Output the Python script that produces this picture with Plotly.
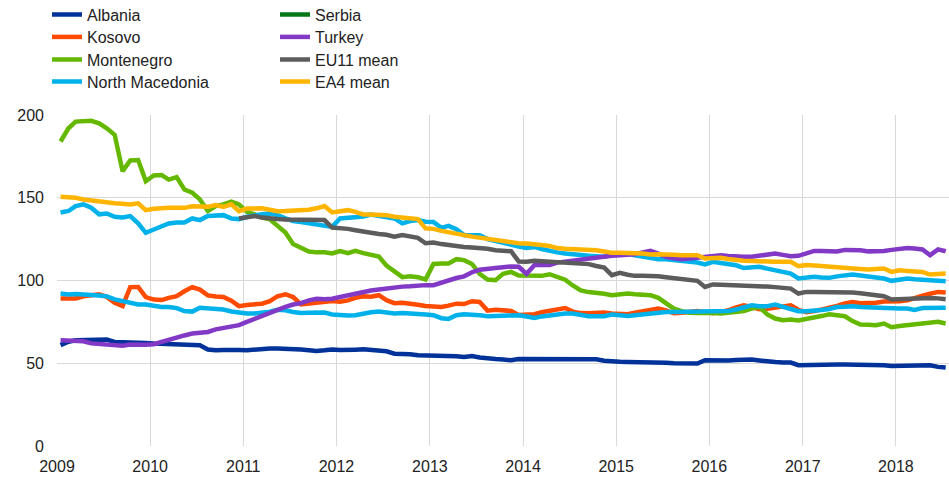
import plotly.graph_objects as go

# Monthly observations, Jan 2009 - Jul 2018 (index 0 = Jan 2009)
n_months = 115
months = [f"{2009 + m // 12}-{m % 12 + 1:02d}-15" for m in range(n_months)]

albania = [
    61, 63, 63.9, 63.9, 63.9, 64, 64.3, 62.9, 62.9, 62.9, 62.6, 62.3,
    62, 61.8, 61.5, 61.5, 61.5, 61.2, 60.9, 58.3, 57.8, 58, 58.3, 58,
    57.8, 58.4, 58.9, 58.9, 58.9, 58.9, 58.5, 58.3, 57.8, 57.4, 57.8, 58.3,
    58, 57.8, 58.2, 58.4, 58, 57.8, 57.2, 55.8, 55.8, 55.5, 54.8, 54.8,
    54.8, 54.8, 54.5, 54.2, 53.8, 54.4, 53.5, 52.8, 52.5, 52.2, 51.8, 52.6,
    52.6, 52.3, 52.2, 52.2, 52.2, 52.3, 52.3, 52.4, 52.4, 52.4, 51.5, 51,
    50.9, 50.8, 50.8, 50.8, 50.5, 50.5, 50.3, 50, 49.8, 49.8, 49.8, 51.8,
    51.6, 51.5, 51.6, 51.9, 52.2, 52.2, 51.7, 50.9, 50.7, 50.5, 50.4, 48.8,
    49, 49.1, 49.2, 49.2, 49.2, 49.2, 49.2, 49.2, 49.2, 49, 48.8, 48.4,
    48.6, 48.8, 48.8, 48.8, 48.8, 47.8, 47.4,
]

kosovo = [
    89.1, 89.1, 89.1, 90.5, 91.3, 91.7, 90.1, 86.5, 84.5, 96, 96.1, 90,
    88.5, 88.2, 89.5, 90.5, 93.5, 96, 94.5, 91, 90.3, 90.1, 87.8, 84.5,
    85.2, 85.6, 86, 87.5, 90.5, 91.7, 90, 85.5, 86, 86.7, 87.5, 87.6,
    87.2, 88, 89.5, 90.5, 90.2, 91.1, 88.1, 86.3, 86.5, 86.2, 85.3, 84.6,
    84.3, 84, 84.8, 86, 85.8, 87.5, 87, 81.8, 82.3, 82.2, 81.6, 79.2,
    79.2, 79.6, 80.8, 81.6, 82.5, 83.4, 81.2, 80.3, 80.2, 80.4, 80.6, 80,
    79.6, 79.6, 80.5, 81.4, 82.8, 83.1, 82, 80.2, 80.5, 81, 81.5, 81,
    80.2, 81, 82, 83.8, 85, 84, 82.6, 83, 83.8, 84.6, 85, 82.3,
    80.8, 81.5, 82.4, 83.1, 84.7, 86.2, 87, 86.3, 86.2, 86.5, 87.3, 87.2,
    87.5, 88, 89.5, 90.8, 92, 93.1, 92.7,
]

montenegro = [
    184, 192, 196, 196.5, 196.5, 195, 192, 188, 166, 172.5, 172.8, 160,
    163.5, 163.7, 161, 162.5, 155, 153, 149, 142, 145, 146, 147.6, 146,
    141.5, 140, 138, 137, 133, 129, 122, 120, 117.5, 117, 117, 116.3,
    117.8, 116.5, 117.9, 116.5, 115.5, 114.5, 109, 105.5, 102, 102.6, 102, 100.6,
    110, 110.3, 110.3, 112.9, 112.3, 110, 104, 100.6, 100.2, 104, 105.2, 103,
    102.8, 102.8, 102.8, 103.8, 102.5, 100.5, 97, 94, 93, 92.7, 92, 91.1,
    91.5, 92.1, 91.7, 91.5, 91.1, 89.5, 86, 83, 81.5, 80.5, 80.4, 80.5,
    80.3, 80, 80.5, 81, 81.6, 83, 84, 79.5, 77, 76, 76.4, 75.8,
    76.5, 77.4, 78.5, 79.6, 79, 78.4, 75.5, 73.4, 73.2, 73, 74, 71.8,
    72.5, 73, 74, 74.6, 74.8, 75, 74,
]

north_macedonia = [
    92.1, 91.5, 91.8, 91.3, 91.3, 91, 90.4, 88.6, 87.4, 86, 85.5, 85.5,
    84.5, 84, 84, 83.3, 81.5, 81.2, 83.5, 83, 82.6, 82.5, 81.3, 80.6,
    80.1, 80.1, 80.4, 81.2, 82.3, 82, 81, 80.3, 80.5, 80.6, 80.6, 79.5,
    78.9, 78.8, 79, 80.2, 80.8, 81.3, 80.8, 80.1, 80.3, 80.2, 79.7, 79.4,
    79, 77.2, 76.8, 79, 79.6, 79.6, 79, 78.4, 78.4, 78.4, 78.8, 79,
    78.2, 77.4, 78.3, 79, 79.5, 80, 80, 79, 78.4, 78.4, 78.4, 79.4,
    79, 78.5, 79, 79.6, 80.2, 81, 81, 81, 81, 81, 81, 81,
    81, 81.3, 81.6, 82.5, 83.6, 85, 84.5, 84.5, 85.5, 84, 82.8, 81.4,
    81.4, 81.6, 82.2, 82.8, 84, 84.2, 84.5, 84, 83.7, 83.4, 83.2, 83.1,
    83.1, 83.1, 82.2, 83.4, 83.5, 83.6, 83.6,
]

# second light-blue line of the chart (drawn in the same colour as North Macedonia)
second_blue = [
    141.1, 142, 145, 146, 144, 140, 140.5, 138.5, 138.1, 138.9, 134.5, 128.8,
    130.8, 132.4, 134.5, 135, 135.1, 137.5, 136.5, 139, 139.3, 139.5, 137.5, 137.1,
    138.5, 139.5, 140, 140.5, 139.5, 137.5, 136, 135.4, 134.7, 134, 133.2, 132.4,
    137.5, 138, 138.5, 138.7, 139.9, 139, 138.5, 137.5, 134.5, 135.9, 136.5, 135.5,
    135.4, 131.8, 133, 131, 127.4, 127.4, 127.4, 125, 123.8, 122.5, 121.4, 120.5,
    119.7, 120.3, 119, 117.7, 117, 116.3, 115.7, 115.2, 114.9, 114.6, 114.3, 115.5,
    116, 116.3, 115.3, 114.3, 113.5, 112.9, 112.9, 112.4, 111.8, 111.3, 110.9, 109.7,
    111.3, 110.6, 110, 109.2, 107.5, 107.8, 108.3, 107.2, 106.2, 105, 104.2, 101.2,
    101.8, 102.2, 101.8, 101.6, 102.5, 103, 103.6, 103, 102.3, 101.6, 101.2, 99.8,
    100.5, 101.2, 100.8, 100.4, 100.2, 99.6, 99.6,
]

turkey = [
    63.9, 63.5, 63.3, 63.3, 62, 61.5, 61.5, 60.8, 60.6, 61.3, 61, 61.2,
    61.5, 63, 64.5, 65.5, 66.8, 68, 68.5, 68.9, 70.5, 71.5, 72, 73,
    75, 77, 78.5, 80.3, 82, 84, 85.5, 86.3, 88, 89, 88.7, 89,
    90, 91, 92, 93.5, 94, 94.6, 95.3, 96, 96.3, 96.5, 97, 97.2,
    97.2, 98.8, 100, 101.5, 102.5, 105, 106.5, 107.3, 107.6, 108, 108.5, 108.3,
    104, 109.3, 109.3, 109.3, 110.8, 111.5, 112, 112.8, 113.6, 114, 114.5, 115,
    115.3, 115.6, 115.9, 117, 117.9, 116.3, 114.3, 113.5, 112.9, 113.3, 113.7, 114,
    114.5, 115.3, 114.8, 114.3, 114.3, 114.3, 115, 115.7, 116.3, 115.5, 114.7, 114.9,
    116.5, 117.9, 117.9, 117.9, 117.5, 118.5, 118.6, 118.3, 117.6, 117.5, 117.9, 118.5,
    119.2, 119.7, 119.3, 118.8, 115.3, 118.8, 117.7,
]

# EU11 mean starts in Dec 2010 (index 23)
eu11_start = 23
eu11_mean = [
    137.5,
    138.5, 138.9, 138, 137.3, 137.1, 136.9, 136.9, 136.7, 136.5, 136.5, 136.5, 132,
    131.8, 131.2, 130.4, 129.4, 128.6, 128.1, 127.6, 126.5, 127.4, 126.6, 125.8, 122.5,
    123, 122, 121.4, 120.5, 120.3, 120, 119.7, 119.2, 118.3, 118, 117.7, 111.5,
    111.3, 111.9, 111.7, 111.5, 111.3, 111.1, 110.9, 110.3, 109.9, 108.8, 107.8, 103.2,
    104.6, 103.5, 102.8, 102.8, 102.8, 102.5, 102, 101.4, 101, 100.6, 99.8, 96.1,
    97.6, 97.5, 97.4, 97.2, 97, 96.8, 96.6, 96.3, 96, 95.7, 95.1, 92.1,
    93.1, 93.1, 93.1, 93.1, 93, 92.8, 92.7, 92.3, 91.8, 91.3, 90.5, 88.5,
    88.8, 89.1, 89.3, 89.5, 89.5, 89.2, 88.7,
]

ea4_mean = [
    150.6, 150.3, 150, 149, 148.3, 147.6, 147.2, 146.7, 146.4, 146, 146.6, 142.5,
    143.3, 143.9, 143.9, 143.9, 143.9, 144.9, 144.7, 144.5, 145.6, 144.5, 146, 141.9,
    143.5, 143.9, 143.6, 142.8, 141.9, 142, 142.1, 142.3, 142.8, 143.6, 145, 141.1,
    142, 142.5, 141.5, 139.9, 139.9, 139.9, 139.5, 138.5, 138, 137.6, 137.1, 131.5,
    131.2, 130, 129, 128.3, 127.4, 126.5, 125.8, 125.4, 125, 124.2, 123.6, 122.5,
    122.3, 122.2, 121.5, 120.9, 119.6, 119.2, 119, 118.9, 118.6, 118.3, 117.5, 116.7,
    116.8, 116.9, 116.5, 116.3, 115.7, 115.8, 115.9, 115.5, 115.3, 115.3, 115.3, 113.3,
    113.5, 113.7, 113, 112.3, 112, 111.8, 111.5, 111.4, 111.3, 111.3, 111.3, 108.7,
    109.3, 109, 108.6, 108.3, 107.9, 107.5, 107.2, 106.9, 106.7, 107, 107.3, 105.2,
    106.2, 105.8, 105.5, 105.2, 103.6, 104, 104.2,
]

colors = {
    "Albania": "#003299",
    "Kosovo": "#FF4B00",
    "Montenegro": "#65B800",
    "North Macedonia": "#00B1EA",
    "Serbia": "#007816",
    "Turkey": "#8139C6",
    "EU11 mean": "#5C5C5C",
    "EA4 mean": "#FFB400",
}

LW = 4.5
FONT = "Liberation Sans, Arial, Helvetica, sans-serif"
TXT = "#222222"

# legend slot of each entry: (legend id, column x px, row centre y px)
legend_slots = {
    "Albania": ("legend", 47, 14.5),
    "Kosovo": ("legend2", 47, 37),
    "Montenegro": ("legend3", 47, 59.5),
    "North Macedonia": ("legend4", 47, 81.5),
    "Serbia": ("legend5", 275, 14.5),
    "Turkey": ("legend6", 275, 37),
    "EU11 mean": ("legend7", 275, 59.5),
    "EA4 mean": ("legend8", 275, 81.5),
}

fig = go.Figure()


def add(name, y, x, showlegend=True, color=None, legend_of=None):
    key = legend_of or name
    fig.add_trace(go.Scatter(
        x=x, y=y, name=name, mode="lines",
        line=dict(color=color or colors[key], width=LW),
        legend=legend_slots[key][0], showlegend=showlegend,
    ))


add("Albania", albania, months)
add("Kosovo", kosovo, months)
add("Montenegro", montenegro, months)
add("North Macedonia", north_macedonia, months)
# Serbia legend entry (no visible line of its own colour in the chart)
add("Serbia", [None], [None])
add("North Macedonia ", second_blue, months, showlegend=False,
    color=colors["North Macedonia"], legend_of="North Macedonia")
add("Turkey", turkey, months)
add("EU11 mean", eu11_mean, months[eu11_start:])
add("EA4 mean", ea4_mean, months)

W, H = 949, 477
legends = {}
for name, (lid, px, py) in legend_slots.items():
    legends[lid] = dict(
        orientation="v", xanchor="left", yanchor="middle",
        xref="container", yref="container",
        x=px / W, y=1 - py / H,
        font=dict(family=FONT, size=16, color=TXT),
        bgcolor="rgba(0,0,0,0)", borderwidth=0, tracegroupgap=0,
    )

fig.update_layout(
    width=W, height=H,
    margin=dict(l=57, r=0, t=115, b=31, autoexpand=False),
    paper_bgcolor="white", plot_bgcolor="white",
    font=dict(family=FONT, size=16, color=TXT),
    xaxis=dict(
        type="date", range=["2009-01-01", "2018-07-28"],
        tick0="2009-01-01", dtick="M12", tickformat="%Y",
        showgrid=True, gridcolor="#d9d9d9", gridwidth=1,
        zeroline=False, showline=False, ticks="", automargin=False,
        tickfont=dict(family=FONT, size=16, color=TXT),
        ticklabelstandoff=9,
    ),
    yaxis=dict(
        range=[0, 200], tick0=0, dtick=50,
        showgrid=True, gridcolor="#d9d9d9", gridwidth=1,
        zeroline=False, showline=False, ticks="", automargin=False,
        tickfont=dict(family=FONT, size=16, color=TXT),
        ticklabelstandoff=12,
    ),
    showlegend=True,
    **legends,
)

fig.write_html(
    "out.html",
    config={"displayModeBar": False},
    post_script="document.body.style.margin='0';document.body.style.overflow='hidden';",
)
